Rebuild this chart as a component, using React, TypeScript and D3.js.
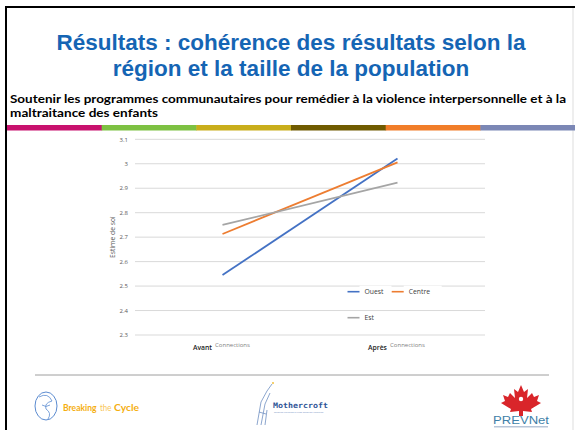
import React, { useEffect, useRef } from "react"
import * as d3 from "d3"

// data
const periods = ["Avant", "Après"]
const regions = ["Ouest", "Centre", "Est"]
const ouest = [2.545, 3.022]
const centre = [2.713, 3.006]
const est = [2.75, 2.923]
const yTicks = [2.3, 2.4, 2.5, 2.6, 2.7, 2.8, 2.9, 3.0, 3.1]
const colors = ["#4472C4", "#ED7D31", "#A5A5A5"]
const barColors = ["#C8116E", "#7DC142", "#C9AE1B", "#705B00", "#F17D29", "#7B87B5"]

const titleLines = ["Résultats : cohérence des résultats selon la", "région et la taille de la population"]
const subLines = [
    "Soutenir les programmes communautaires pour remédier à la violence interpersonnelle et à la",
    "maltraitance des enfants",
]

const W = 575
const H = 430
const chartFont = "'Open Sans', 'DejaVu Sans', sans-serif"
const subFont = "Lato, 'Open Sans', sans-serif"

export default function App() {
    const ref = useRef<SVGSVGElement>(null)

    useEffect(() => {
        const svg = d3.select(ref.current)
        svg.selectAll("*").remove()

        // slide frame
        svg.append("rect").attr("width", W).attr("height", H).attr("fill", "#fff")
        svg.append("line").attr("x1", 6).attr("x2", W).attr("y1", 7).attr("y2", 7)
            .attr("stroke", "#000").attr("stroke-width", 2)
        svg.append("line").attr("x1", 6).attr("x2", 6).attr("y1", 6).attr("y2", H)
            .attr("stroke", "#000").attr("stroke-width", 2)
        svg.append("line").attr("x1", 573).attr("x2", 573).attr("y1", 8).attr("y2", H)
            .attr("stroke", "#ddd").attr("stroke-width", 1)

        // title
        svg.selectAll(".title").data(titleLines).enter().append("text")
            .attr("class", "title")
            .attr("x", 291)
            .attr("y", (d, i) => 50 + i * 26)
            .attr("text-anchor", "middle")
            .attr("font-family", "'Liberation Sans', Arial, sans-serif")
            .attr("font-weight", "bold")
            .attr("font-size", 22.5)
            .attr("fill", "#1565B4")
            .text(d => d)

        svg.selectAll(".sub").data(subLines).enter().append("text")
            .attr("class", "sub")
            .attr("x", 10)
            .attr("y", (d, i) => 103 + i * 14)
            .attr("font-family", subFont)
            .attr("font-weight", "bold")
            .attr("font-size", 12)
            .attr("fill", "#000")
            .attr("textLength", (d, i) => (i === 0 ? 556 : 148))
            .attr("lengthAdjust", "spacingAndGlyphs")
            .text(d => d)

        // colour band
        const bx = d3.scaleBand().domain(d3.range(barColors.length).map(String)).range([7, W])
        svg.selectAll(".band").data(barColors).enter().append("rect")
            .attr("x", (d, i) => bx(String(i)))
            .attr("y", 125)
            .attr("width", bx.bandwidth() + 0.5)
            .attr("height", 5.5)
            .attr("fill", d => d)

        // chart
        const x = d3.scalePoint().domain(periods).range([135, 485]).padding(0.5)
        const y = d3.scaleLinear().domain([2.3, 3.1]).range([335, 139.3])

        const grid = svg.append("g")
        grid.selectAll("line").data(yTicks).enter().append("line")
            .attr("x1", 135).attr("x2", 485)
            .attr("y1", d => y(d)).attr("y2", d => y(d))
            .attr("stroke", "#D9D9D9").attr("stroke-width", 1)

        svg.append("g").selectAll("text").data(yTicks).enter().append("text")
            .attr("x", 128)
            .attr("y", d => y(d) + 2.2)
            .attr("text-anchor", "end")
            .attr("font-family", chartFont)
            .attr("font-size", 6)
            .attr("fill", "#595959")
            .text(d => d3.format("~g")(d))

        svg.append("text")
            .attr("transform", "translate(115," + y(2.7) + ") rotate(-90)")
            .attr("text-anchor", "middle")
            .attr("font-family", chartFont)
            .attr("font-size", 6.8)
            .attr("fill", "#595959")
            .text("Estime de soi")

        // category labels
        const xl = svg.append("g")
        xl.selectAll(".per").data(periods).enter().append("text")
            .attr("x", d => x(d)! - 20)
            .attr("y", 350)
            .attr("text-anchor", "middle")
            .attr("font-family", chartFont)
            .attr("font-weight", "600")
            .attr("font-size", 6.8)
            .attr("fill", "#222")
            .text(d => d)
        xl.selectAll(".con").data(periods).enter().append("text")
            .attr("x", d => x(d)! + 10)
            .attr("y", 347)
            .attr("text-anchor", "middle")
            .attr("font-family", chartFont)
            .attr("font-size", 6)
            .attr("fill", "#7F7F7F")
            .text("Connections")

        // legend (white boxes behind labels hide the grid)
        const legendPos = [[347.5, 291.7], [391.7, 291.7], [347.5, 317.7]]
        const leg = svg.append("g")
        regions.forEach((r, i) => {
            const [lx, ly] = legendPos[i]
            leg.append("rect").attr("x", lx + 12).attr("y", ly - 6)
                .attr("width", i === 1 ? 38 : 32).attr("height", 12).attr("fill", "#fff")
            leg.append("line").attr("x1", lx).attr("x2", lx + 12)
                .attr("y1", ly).attr("y2", ly)
                .attr("stroke", colors[i]).attr("stroke-width", 1.6)
            leg.append("text").attr("x", lx + 17).attr("y", ly + 2.3)
                .attr("font-family", chartFont)
                .attr("font-size", 6.8)
                .attr("fill", "#404040")
                .text(r)
        })

        const series = [ouest, centre, est]
        const line = d3.line<number>().x((d, i) => x(periods[i])!).y(d => y(d))
        svg.append("g").selectAll("path").data(series).enter().append("path")
            .attr("d", d => line(d))
            .attr("fill", "none")
            .attr("stroke", (d, i) => colors[i])
            .attr("stroke-width", 1.8)

        // footer
        svg.append("line").attr("x1", 35).attr("x2", 549).attr("y1", 375).attr("y2", 375)
            .attr("stroke", "#9E9E9E").attr("stroke-width", 1)

        // Breaking the Cycle logo
        const btc = svg.append("g")
        btc.append("ellipse").attr("cx", 46).attr("cy", 406).attr("rx", 11).attr("ry", 14)
            .attr("fill", "none").attr("stroke", "#5B8BD0").attr("stroke-width", 1)
        btc.append("path").attr("d", "M39,397 q9,-5 13,4 q-8,2 -6,8 q6,4 2,10 M42,405 q4,3 8,0")
            .attr("fill", "none").attr("stroke", "#5B8BD0").attr("stroke-width", 0.8)
        const btcParts = [
            { t: "Breaking", x: 63, w: 33.5, c: "#F5AE10", fw: "bold" },
            { t: "the", x: 100, w: 11.5, c: "#F8C75A", fw: "normal" },
            { t: "Cycle", x: 114, w: 25, c: "#F5AE10", fw: "bold" },
        ]
        btc.selectAll(".btc").data(btcParts).enter().append("text")
            .attr("x", d => d.x).attr("y", 411)
            .attr("font-family", subFont).attr("font-size", 9.5)
            .attr("font-weight", d => d.fw).attr("fill", d => d.c)
            .attr("textLength", d => d.w).attr("lengthAdjust", "spacingAndGlyphs")
            .text(d => d.t)

        // Mothercroft logo
        const mc = svg.append("g")
        mc.append("path").attr("d", "M257,425 L261,402 L267,391 L272,384 M261,425 L265,404 L270,393 M265,425 L267,410 M259,412 L266,414")
            .attr("fill", "none").attr("stroke", "#6F8FC2").attr("stroke-width", 0.8)
        mc.append("circle").attr("cx", 273).attr("cy", 383).attr("r", 1).attr("fill", "#F0C040")
        mc.append("text").attr("x", 273).attr("y", 408)
            .attr("font-family", "'DejaVu Sans Mono', monospace").attr("font-weight", "bold")
            .attr("font-size", 7.5).attr("fill", "#2F5597")
            .attr("textLength", 55).attr("lengthAdjust", "spacingAndGlyphs")
            .text("Mothercroft")
        mc.append("text").attr("x", 274).attr("y", 413)
            .attr("font-family", chartFont).attr("font-size", 2.5).attr("fill", "#6F8FC2")
            .text("Shaping Children's Lives Through Learning")

        // PREVNet logo
        const pv = svg.append("g")
        pv.append("path")
            .attr("d", "M521,385 L524,392 L528,389 L527,398 L532,393 L534,397 L539,395 L537,401 L541,403 L531,409 L532,412 L523,411 L523,416 L519,416 L519,411 L510,412 L511,409 L501,403 L505,401 L503,395 L508,397 L510,393 L515,398 L514,389 L518,392 Z")
            .attr("fill", "#D9252A")
        pv.append("circle").attr("cx", 521).attr("cy", 399).attr("r", 2.2).attr("fill", "#fff")
        pv.append("text").attr("x", 521).attr("y", 424)
            .attr("text-anchor", "middle")
            .attr("font-family", "'Liberation Sans', Arial, sans-serif")
            .attr("font-size", 10).attr("fill", "#3E7FA8")
            .attr("textLength", 56).attr("lengthAdjust", "spacingAndGlyphs")
            .text("PREVNet")
        pv.append("rect").attr("x", 494).attr("y", 426).attr("width", 54).attr("height", 1.5).attr("fill", "#B8C6D8")
    }, [])

    return (
        <svg ref={ref} width={W} height={H} style={{ position: "absolute", left: 0, top: 0 }} />
    )
}
